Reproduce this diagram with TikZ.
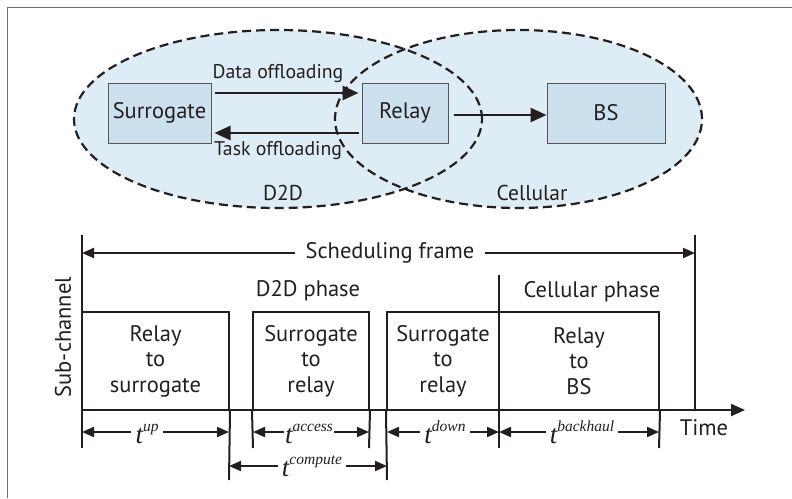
\documentclass[tikz,border=0pt]{standalone}
\usepackage{fontspec}
\setmainfont{PT Sans}
\newfontfamily\timesfont{Liberation Serif}
\usetikzlibrary{arrows.meta,shapes.geometric,calc}

\definecolor{zonefill}{RGB}{222,237,245}
\definecolor{boxfill}{RGB}{203,226,238}
\definecolor{boxline}{RGB}{85,85,85}
\definecolor{ink}{RGB}{35,31,32}
\definecolor{framegray}{RGB}{110,110,110}

% italic time symbol with a superscript tag
\newcommand{\tvar}[1]{{\timesfont\itshape\fontsize{27}{27}\selectfont t\raisebox{12pt}{\fontsize{15.5}{15.5}\selectfont #1}}}

\tikzset{
  zone/.style={ellipse, fill=zonefill, draw=none, inner sep=0pt},
  zoneedge/.style={ellipse, draw=ink, line width=2.2pt, dash pattern=on 9pt off 5pt, inner sep=0pt},
  netbox/.style={rectangle, fill=boxfill, draw=boxline, line width=1pt, minimum height=60pt,
    inner sep=0pt, text=ink, font=\fontsize{22.5}{26}\selectfont},
  biglink/.style={draw=ink, line width=2.6pt, -{Triangle[length=16pt,width=14pt]}},
  tag/.style={text=ink, inner sep=0pt, font=\fontsize{19.8}{22}\selectfont},
  label/.style={text=ink, inner sep=0pt, font=\fontsize{22.5}{26}\selectfont},
  slot/.style={rectangle, draw=ink, line width=2pt, minimum height=98pt, inner sep=0pt,
    align=center, text=ink, font=\fontsize{22.5}{25.5}\selectfont},
  axisline/.style={draw=ink, line width=2pt},
  dim/.style={draw=ink, line width=2pt, -{Triangle[length=12pt,width=10pt]}},
  tlabel/.style={text=ink, inner sep=4pt, anchor=base},
}

\begin{document}
\begin{tikzpicture}[x=1pt, y=-1pt]
\useasboundingbox (0,0) rectangle (792,498);

% outer frame
\draw[framegray, line width=0.9pt] (7,498) -- (7,7) -- (792,7);

% ---- network part ----
\node[zone, minimum width=408pt, minimum height=178pt] (d2d) at (278,119) {};
\node[zone, minimum width=367pt, minimum height=178pt] (cell) at (518.5,119) {};
\node[zoneedge, minimum width=408pt, minimum height=178pt] (d2dedge) at (d2d) {};
\node[zoneedge, minimum width=367pt, minimum height=178pt] (celledge) at (cell) {};

\node[netbox, minimum width=103pt] (surr) at (159.5,113) {Surrogate};
\node[netbox, minimum width=86pt] (relay) at (405,113) {Relay};
\node[netbox, minimum width=118pt] (bs) at (606,113) {BS};

\draw[biglink] ($(surr.east)+(3,-20)$) -- ($(relay.west)+(-3,-20)$);
\draw[biglink] ($(relay.west)+(-3,20)$) -- ($(surr.east)+(3,20)$);
\draw[biglink] ($(relay.east)+(5,2)$) -- ($(bs.west)+(0,2)$);

\node[tag] (datalbl) at (278,74) {Data offloading};
\node[tag] (tasklbl) at (278,151) {Task offloading};
\node[label, font=\fontsize{21.5}{24}\selectfont] (d2dlbl) at (283,193) {D2D};
\node[label, font=\fontsize{21.5}{24}\selectfont] (celllbl) at (532,193) {Cellular};

% ---- scheduling part ----
\coordinate (ytop) at (82,235);
\coordinate (ybot) at (82,448);
\coordinate (origin) at (82,410);
\coordinate (tend) at (745,410);
\coordinate (ftop) at (695,235);
\coordinate (fbot) at (695,410);
\coordinate (schl) at (82,253);
\coordinate (schr) at (695,253);

\node[slot, minimum width=147pt] (s1) at (155.5,361) {Relay\\to\\surrogate};
\node[slot, minimum width=116pt] (s2) at (311,361) {Surrogate\\to\\relay};
\node[slot, minimum width=112pt] (s3) at (443,361) {Surrogate\\to\\relay};
\node[slot, minimum width=160pt] (s4) at (579,361) {Relay\\to\\BS};

\draw[axisline] (ytop) -- (ybot);
\draw[axisline, -{Triangle[length=14pt,width=12pt]}] (origin) -- (tend);
\draw[axisline] (ftop) -- (fbot);

% phase divider and tick marks
\coordinate (divtop) at (499,275);
\coordinate (divbot) at (499,448);
\draw[axisline] (divtop) -- (divbot);
\coordinate (k1) at (229,480);
\coordinate (k2) at (253,448);
\coordinate (k3) at (369,448);
\coordinate (k4) at (387,480);
\coordinate (k5) at (659,448);
\draw[axisline] (s1.south east) -- (k1);
\draw[axisline] (s2.south west) -- (k2);
\draw[axisline] (s2.south east) -- (k3);
\draw[axisline] (s3.south west) -- (k4);
\draw[axisline] (s4.south east) -- (k5);

\node[label] (sched) at (390,253) {Scheduling frame};
\draw[dim] ($(sched.west)+(-10,0)$) -- (schl);
\draw[dim] ($(sched.east)+(10,0)$) -- (schr);

\node[label] (d2dph) at (308,291) {D2D phase};
\node[label] (cellph) at (592,292) {Cellular phase};
\node[label] (timelbl) at (704,428) {Time};
\node[label, rotate=90] (sublbl) at (63,337) {Sub-channel};

% durations
\coordinate (u1) at (82,432);
\coordinate (u2) at (229,432);
\coordinate (a1) at (253,432);
\coordinate (a2) at (369,432);
\coordinate (d1) at (387,432);
\coordinate (d2) at (499,432);
\coordinate (b1) at (499,432);
\coordinate (b2) at (659,432);
\coordinate (c1) at (229,466);
\coordinate (c2) at (387,466);

\node[tlabel] (tup) at (147,443) {\tvar{up}};
\node[tlabel, inner sep=1pt] (tacc) at (309,443) {\tvar{access}};
\node[tlabel] (tdown) at (445,443) {\tvar{down}};
\node[tlabel] (tback) at (582,443) {\tvar{backhaul}};
\node[tlabel] (tcomp) at (312,476) {\tvar{compute}};

\draw[dim] (tup.west |- u1) -- (u1);
\draw[dim] (tup.east |- u2) -- (u2);
\draw[dim] (tacc.west |- a1) -- (a1);
\draw[dim] (tacc.east |- a2) -- (a2);
\draw[dim] (tdown.west |- d1) -- (d1);
\draw[dim] (tdown.east |- d2) -- (d2);
\draw[dim] (tback.west |- b1) -- (b1);
\draw[dim] (tback.east |- b2) -- (b2);
\draw[dim] (tcomp.west |- c1) -- (c1);
\draw[dim] (tcomp.east |- c2) -- (c2);
\end{tikzpicture}
\end{document}
